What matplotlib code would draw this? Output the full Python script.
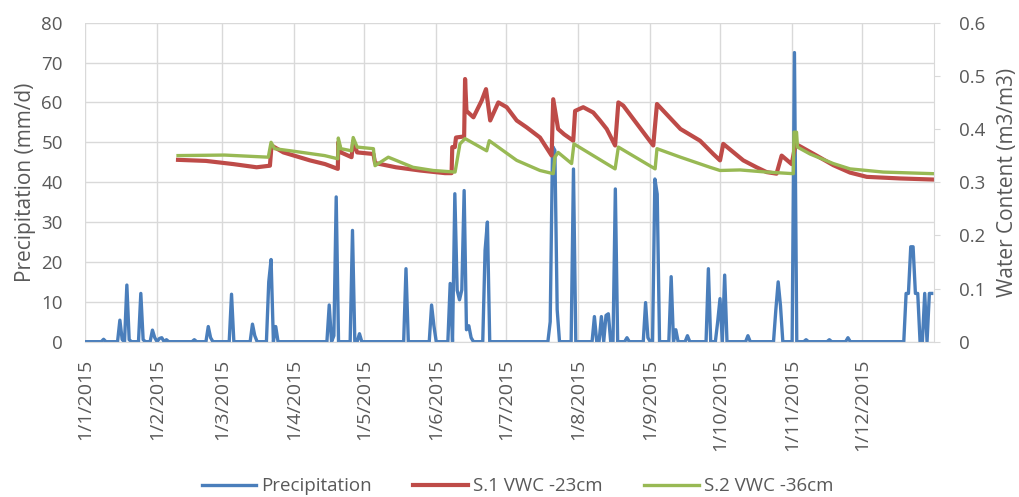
import matplotlib
matplotlib.use("Agg")
import matplotlib.pyplot as plt
import numpy as np
from matplotlib import font_manager

# ---------------- data ----------------
month_start_day = [0, 31, 59, 90, 120, 151, 181, 212, 243, 273, 304, 334]
month_labels = ["1/1/2015", "1/2/2015", "1/3/2015", "1/4/2015", "1/5/2015",
                "1/6/2015", "1/7/2015", "1/8/2015", "1/9/2015", "1/10/2015",
                "1/11/2015", "1/12/2015"]

# daily precipitation (mm/d); days not listed are 0
rain_day = [8, 15, 16, 18, 19, 24, 25, 29, 30, 32, 33, 35, 47, 53, 54, 63, 72, 73,
            79, 80, 82, 105, 107, 108, 115, 118, 138, 149, 150, 157, 159, 160,
            161, 162, 163, 164, 165, 166, 172, 173, 200, 201, 202, 203, 210,
            219, 222, 224, 225, 228, 233, 241, 242, 245, 246, 252, 254, 259,
            268, 272, 273, 275, 285, 297, 298, 299, 305, 310, 320, 328,
            353, 354, 355, 356, 357, 358, 361, 363, 364]
rain_mm = [0.6, 5.4, 0.5, 14.2, 0.5, 12.1, 0.5, 2.9, 1.0, 0.8, 1.0, 0.5, 0.5, 3.8, 1.0, 11.9, 4.4, 1.5,
           15.0, 20.6, 3.8, 9.2, 1.5, 36.3, 27.9, 2.0, 18.3, 9.2, 4.0, 14.6, 37.1, 12.9,
           10.5, 13.0, 37.9, 3.0, 4.0, 1.0, 22.9, 30.0, 5.0, 49.0, 48.0, 8.0, 43.3,
           6.3, 6.3, 6.6, 7.0, 38.3, 1.0, 9.8, 1.0, 40.8, 37.0, 16.3, 3.0, 1.5,
           18.3, 5.0, 10.8, 16.7, 1.5, 8.0, 15.0, 9.0, 72.5, 0.5, 0.5, 1.0,
           12.1, 12.1, 23.8, 23.8, 12.1, 12.1, 12.1, 12.1, 12.1]

# S.1 VWC -23cm (m3/m3)
s1_day = [40, 52, 63.8, 73.8, 79.5, 80.2, 85.3, 96.7, 103.2, 108.7, 108.9, 110,
          114.6, 115.3, 117, 124, 124.7, 133.7, 144, 154.8, 157.6, 157.9, 159,
          159.5, 163, 163.4, 164, 167, 170.5, 172.4, 174.2, 177.7, 181.3, 185.6,
          189.9, 195.6, 200.6, 201.3, 203.4, 206, 209.9, 210.7, 214.2, 218.5,
          221.4, 224.3, 227.9, 229.3, 231.4, 244.3, 245.9, 256, 264.4, 270.1,
          273, 274.4, 283, 288.7, 293, 297.3, 299.5, 303.8, 305.5, 308, 314.5,
          321.7, 328.9, 336.1, 350.4, 364.5]
s1_vwc = [0.342, 0.340, 0.334, 0.328, 0.331, 0.369, 0.356, 0.341, 0.334, 0.325, 0.375, 0.356,
          0.347, 0.377, 0.356, 0.353, 0.336, 0.328, 0.322, 0.317, 0.317, 0.366, 0.366,
          0.384, 0.386, 0.494, 0.434, 0.422, 0.453, 0.475, 0.416, 0.450, 0.441, 0.416,
          0.403, 0.384, 0.350, 0.456, 0.400, 0.390, 0.378, 0.434, 0.441, 0.431,
          0.416, 0.400, 0.369, 0.450, 0.444, 0.369, 0.447, 0.400, 0.378, 0.353,
          0.341, 0.372, 0.341, 0.328, 0.319, 0.316, 0.350, 0.334, 0.372, 0.366, 0.350,
          0.332, 0.318, 0.310, 0.307, 0.305]

# S.2 VWC -36cm (m3/m3)
s2_day = [40, 60, 78.8, 80.0, 81.5, 90, 103, 108.7, 108.9, 110, 114.6, 115.3, 117,
          124, 124.7, 130.4, 141, 149.7, 159.1, 161.2, 163.4, 172.7, 173.8, 185.6,
          195.6, 201.3, 202, 203.4, 209.2, 210.2, 227.9, 229.3, 245.1, 245.9, 256,
          268.7, 273, 281.6, 293, 304.5, 304.8, 305.9, 306.3, 311.7, 321.7, 328.9,
          343.2, 364.5]
s2_vwc = [0.350, 0.351, 0.347, 0.375, 0.363, 0.358, 0.350, 0.344, 0.383, 0.363, 0.359, 0.384, 0.366,
          0.363, 0.331, 0.347, 0.328, 0.322, 0.319, 0.372, 0.382, 0.359, 0.378, 0.341,
          0.322, 0.316, 0.347, 0.356, 0.335, 0.372, 0.325, 0.366, 0.325, 0.363, 0.347,
          0.328, 0.322, 0.323, 0.319, 0.316, 0.394, 0.394, 0.366, 0.353, 0.335, 0.325,
          0.319, 0.316]

# ---------------- fonts ----------------
available = {f.name for f in font_manager.fontManager.ttflist}
main_font = "Open Sans" if "Open Sans" in available else "DejaVu Sans"
plt.rcParams["font.family"] = [main_font, "DejaVu Sans"]

text_col = "#595959"
grid_col = "#D9D9D9"
blue = "#4A7EBB"
red = "#BE4B48"
green = "#98B954"

days = np.arange(365)
precip = np.zeros(365)
precip[rain_day] = rain_mm

fig = plt.figure(figsize=(10.19, 4.97), dpi=100)
ax = fig.add_axes([0.0834, 0.3125, 0.8332, 0.6419])
ax2 = ax.twinx()

lp, = ax.plot(days, precip, color=blue, lw=2.4, solid_joinstyle="round", label="Precipitation")
l1, = ax2.plot(s1_day, s1_vwc, color=red, lw=3.0, label="S.1 VWC -23cm")
l2, = ax2.plot(s2_day, s2_vwc, color=green, lw=2.4, label="S.2 VWC -36cm")

ax.set_xlim(0, 365)
ax.set_ylim(0, 80)
ax2.set_ylim(0, 0.6)
ax.set_yticks(np.arange(0, 81, 10))
ax2.set_yticks(np.arange(0, 0.61, 0.1))
ax2.set_yticklabels(["0", "0.1", "0.2", "0.3", "0.4", "0.5", "0.6"])
ax.set_xticks(month_start_day)
ax.set_xticklabels(month_labels, rotation=90, va="top", ha="center")

ax.grid(True, color=grid_col, lw=1)
ax.set_axisbelow(True)
for s in ["left", "top"]:
    ax.spines[s].set_visible(False)
    ax2.spines[s].set_visible(False)
ax.spines["bottom"].set_color(grid_col)
ax2.spines["bottom"].set_visible(False)
ax.spines["right"].set_visible(False)
ax2.spines["right"].set_color(grid_col)

ax.tick_params(axis="y", length=0, pad=16, labelsize=13.5, labelcolor=text_col)
ax.tick_params(axis="x", length=0, pad=12, labelsize=14, labelcolor=text_col)
ax2.tick_params(axis="y", length=4, color=grid_col, pad=14, labelsize=13.5, labelcolor=text_col)

ax.set_ylabel("Precipitation (mm/d)", fontsize=15, color=text_col, labelpad=4)
ax2.set_ylabel("Water Content (m3/m3)", fontsize=15, color=text_col, labelpad=8)

fig.legend(handles=[lp, l1, l2], loc="center", bbox_to_anchor=(0.508, 0.022), ncol=3,
           frameon=False, handlelength=2.9, columnspacing=2.2, handletextpad=0.3,
           prop={"size": 13.5}, labelcolor=text_col)

fig.savefig("out.png", dpi=100)
